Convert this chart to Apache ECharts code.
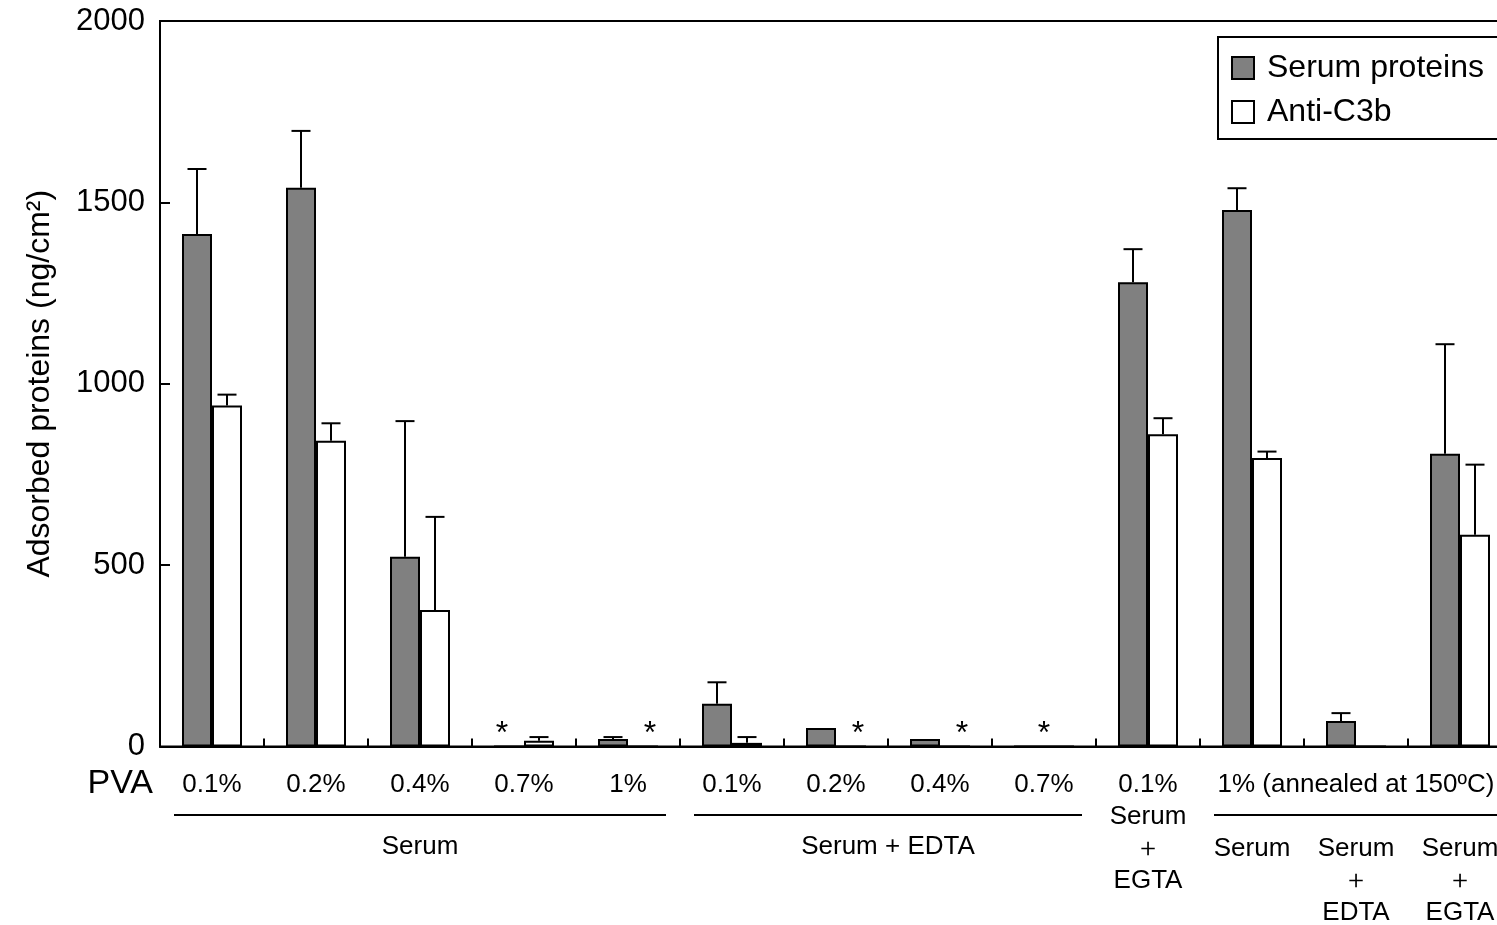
<!DOCTYPE html>
<html>
<head>
<meta charset="utf-8">
<script src="https://cdn.jsdelivr.net/npm/echarts@6/dist/echarts.min.js"></script>
<style>
html,body{margin:0;padding:0;background:#fff;}
#chart{width:1497px;height:925px;}
</style>
</head>
<body>
<div id="chart"></div>
<script>
// ---- data ----
const categories = ['Serum 0.1%','Serum 0.2%','Serum 0.4%','Serum 0.7%','Serum 1%',
  'EDTA 0.1%','EDTA 0.2%','EDTA 0.4%','EDTA 0.7%','EGTA 0.1%',
  'Annealed Serum','Annealed EDTA','Annealed EGTA'];
const tickLabels = ['0.1%','0.2%','0.4%','0.7%','1%','0.1%','0.2%','0.4%','0.7%',
  '0.1%\nSerum\n＋\nEGTA','\n\nSerum','1% (annealed at 150ºC)\n\nSerum\n＋\nEDTA','\n\nSerum\n＋\nEGTA'];
const serumProteins = [1413, 1540, 523, 0, 21, 118, 51, 21, 0, 1280, 1479, 70, 807];
const serumProteinsErrTop = [1592, 1697, 897, null, 26, 177, null, null, null, 1371, 1539, 92, 1109];
const antiC3b = [940, 843, 376, 16, 0, 10, 0, 0, 0, 861, 795, 0, 584];
const antiC3bErrTop = [970, 891, 633, 26, null, 26, null, null, null, 905, 813, null, 777];
// asterisk: -1 over serum-protein bar, 1 over anti-C3b bar, 0 centred, null none
const asterisk = [null, null, null, -1, 1, null, 1, 1, 0, null, null, null, null];
const groupTitles = ['Serum', 'Serum + EDTA'];
const groupFrom = [0, 5, 10];
const groupTo = [4, 8, 12];
const yTicks = [0, 500, 1000, 1500, 2000];

const FONT = '"Liberation Sans", Arial, Helvetica, sans-serif';
const BAR_W = 30;

const chart = echarts.init(document.getElementById('chart'), null, {renderer: 'canvas'});

function errSeries(name, vals, tops, dir) {
  const data = [];
  tops.forEach((t, i) => { if (t != null) data.push([i, vals[i], t]); });
  return {
    type: 'custom', name: name + ' err', data: data, z: 3,
    encode: {x: 0, y: 2},
    renderItem: function (params, api) {
      const i = api.value(0);
      const base = api.coord([i, api.value(1)]);
      const top = api.coord([i, api.value(2)]);
      const x = base[0] + dir * BAR_W / 2;
      const st = {stroke: '#000', lineWidth: 2};
      return {type: 'group', children: [
        {type: 'line', shape: {x1: x, y1: base[1], x2: x, y2: top[1]}, style: st},
        {type: 'line', shape: {x1: x - 9.5, y1: top[1], x2: x + 9.5, y2: top[1]}, style: st}
      ]};
    }
  };
}

const starData = [];
asterisk.forEach((a, i) => { if (a != null) starData.push([i, 0, a]); });

const option = {
  animation: false,
  backgroundColor: '#fff',
  textStyle: {fontFamily: FONT, color: '#000'},
  grid: {left: 160, width: 1352, top: 21, bottom: 178.5, containLabel: false, outerBoundsMode: 'none',
    show: true, borderColor: '#000', borderWidth: 2, backgroundColor: 'transparent'},
  legend: {
    orient: 'vertical', left: 1218, top: 37,
    itemWidth: 22, itemHeight: 22, itemGap: 12,
    padding: [15, 40, 11, 13],
    borderColor: '#000', borderWidth: 2,
    icon: 'rect',
    itemStyle: {borderColor: '#000', borderWidth: 2},
    data: ['Serum proteins', 'Anti-C3b'],
    textStyle: {fontSize: 32, fontFamily: FONT, color: '#000', lineHeight: 30, padding: [0, 0, 0, 8]}
  },
  xAxis: {
    type: 'category', data: categories,
    axisLine: {lineStyle: {color: '#000', width: 2}},
    axisTick: {show: true, inside: true, length: 8, lineStyle: {color: '#000', width: 2}, interval: 0},
    axisLabel: {interval: 0, margin: 22, fontSize: 26, lineHeight: 32, color: '#000', fontFamily: FONT,
      formatter: (v, idx) => tickLabels[idx]},
    splitLine: {show: false}
  },
  yAxis: {
    type: 'value', min: 0, max: 2000, interval: 500,
    name: 'Adsorbed proteins (ng/cm²)', nameLocation: 'middle', nameGap: 104,
    nameTextStyle: {fontSize: 32, fontFamily: FONT, color: '#000'},
    axisLine: {show: true, lineStyle: {color: '#000', width: 2}},
    axisTick: {show: true, inside: true, length: 10, lineStyle: {color: '#000', width: 2}},
    axisLabel: {fontSize: 31, margin: 15, color: '#000', fontFamily: FONT,
      formatter: v => (yTicks.indexOf(v) >= 0 ? String(v) : '')},
    splitLine: {show: false}
  },
  series: [
    {name: 'Serum proteins', type: 'bar', data: serumProteins, barWidth: BAR_W, barGap: '0%',
      itemStyle: {color: '#808080', borderColor: '#000', borderWidth: 2}},
    {name: 'Anti-C3b', type: 'bar', data: antiC3b, barWidth: BAR_W, barGap: '0%',
      itemStyle: {color: '#ffffff', borderColor: '#000', borderWidth: 2}},
    errSeries('Serum proteins', serumProteins, serumProteinsErrTop, -1),
    errSeries('Anti-C3b', antiC3b, antiC3bErrTop, 1),
    {
      type: 'custom', name: 'asterisk', data: starData, z: 4,
      encode: {x: 0, y: 1},
      renderItem: function (params, api) {
        const i = api.value(0);
        const p = api.coord([i, 0]);
        const x = p[0] + api.value(2) * 22;
        return {type: 'text', x: x, y: p[1] - 12,
          style: {text: '*', fontSize: 32, fontFamily: FONT, fill: '#000', align: 'center', verticalAlign: 'middle'}};
      }
    }
  ]
};
chart.setOption(option);

// ---- decorations derived from the axis ----
const cx = i => chart.convertToPixel({xAxisIndex: 0}, i);
const graphics = [];
const lineY = 815, titleY = 847;
for (let g = 0; g < groupFrom.length; g++) {
  const x1 = cx(groupFrom[g]) - 38, x2 = cx(groupTo[g]) + 38;
  graphics.push({type: 'line', shape: {x1: x1, y1: lineY, x2: x2, y2: lineY}, style: {stroke: '#000', lineWidth: 2}});
  if (groupTitles[g]) {
    graphics.push({type: 'text', x: (cx(groupFrom[g]) + cx(groupTo[g])) / 2, y: titleY,
      style: {text: groupTitles[g], fontSize: 26, fontFamily: FONT, fill: '#000', align: 'center', verticalAlign: 'middle'}});
  }
}
graphics.push({type: 'text', x: 153, y: 784,
  style: {text: 'PVA', fontSize: 34, fontFamily: FONT, fill: '#000', align: 'right', verticalAlign: 'middle'}});
chart.setOption({graphic: graphics});
</script>
</body>
</html>
